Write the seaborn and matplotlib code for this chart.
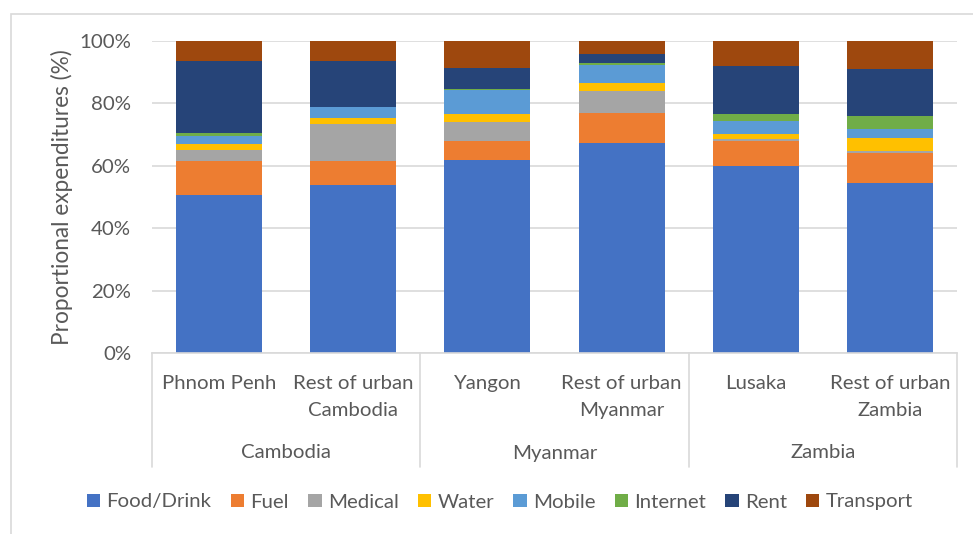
import matplotlib
matplotlib.use("Agg")
import matplotlib.pyplot as plt
import seaborn as sns
import numpy as np
import pandas as pd
from matplotlib.lines import Line2D
from matplotlib.patches import Rectangle, Patch

categories = ["Phnom Penh", "Rest of urban\nCambodia", "Yangon", "Rest of urban\nMyanmar",
              "Lusaka", "Rest of urban\nZambia"]
groups = ["Cambodia", "Myanmar", "Zambia"]
series = ["Food/Drink", "Fuel", "Medical", "Water", "Mobile", "Internet", "Rent", "Transport"]

food = [50.6, 53.8, 61.8, 67.2, 59.8, 54.5]
fuel = [10.9, 7.7, 6.0, 9.7, 8.1, 9.7]
medical = [3.7, 12.0, 6.3, 7.1, 0.8, 0.5]
water = [1.8, 1.9, 2.4, 2.4, 1.6, 4.3]
mobile = [2.7, 3.4, 7.7, 5.9, 4.0, 2.8]
internet = [0.7, 0.2, 0.3, 0.5, 2.2, 4.1]
rent = [23.2, 14.6, 6.7, 2.9, 15.6, 15.0]
transport = [6.4, 6.4, 8.8, 4.3, 7.9, 9.1]

colors = ["#4472C4", "#ED7D31", "#A5A5A5", "#FFC000", "#5B9BD5", "#70AD47", "#264478", "#9E480E"]

sns.set_theme(style="white")
plt.rcParams["font.family"] = ["Lato", "DejaVu Sans"]
text_color = "#595959"

W, H = 973, 534
fig = plt.figure(figsize=(W / 100, H / 100), dpi=100)

x0, x1, ytop, ybot = 152, 957, 41, 353
ax = fig.add_axes([x0 / W, 1 - ybot / H, (x1 - x0) / W, (ybot - ytop) / H])

values = [food, fuel, medical, water, mobile, internet, rent, transport]
bottom = np.zeros(len(categories))
for name, vals, c in zip(series, values, colors):
    df = pd.DataFrame({"cat": categories, "val": np.array(vals) / 100.0})
    sns.barplot(data=df, x="cat", y="val", order=categories, color=c, bottom=bottom,
                width=0.64, ax=ax, linewidth=0, saturation=1)
    bottom = bottom + np.array(vals) / 100.0

ax.set_xlim(-0.5, len(categories) - 0.5)
ax.set_ylim(0, 1.0)
ax.set_yticks(np.arange(0, 1.01, 0.2))
ax.set_yticklabels([f"{int(round(v*100))}%" for v in np.arange(0, 1.01, 0.2)],
                   color=text_color, fontsize=14.7)
ax.yaxis.grid(True, color="#D9D9D9", linewidth=1.2)
ax.set_axisbelow(True)
for s in ["left", "right", "top"]:
    ax.spines[s].set_visible(False)
ax.spines["bottom"].set_color("#D9D9D9")
ax.spines["bottom"].set_linewidth(1.2)
ax.tick_params(axis="y", length=0, pad=15)
ax.set_xticks([])
ax.set_xlabel("")
ax.set_ylabel("Proportional expenditures (%)", color=text_color, fontsize=16.3, labelpad=4.5)

# category labels
step = (x1 - x0) / len(categories)
for i, cat in enumerate(categories):
    cx = (x0 + step * (i + 0.5)) / W
    fig.text(cx, 1 - 375 / H, cat, ha="center", va="top", color=text_color,
             fontsize=14.7, linespacing=1.7)
for j, g in enumerate(groups):
    cx = (x0 + step * (2 * j + 1)) / W
    fig.text(cx, 1 - 453 / H, g, ha="center", va="center", color=text_color, fontsize=14.7)
for k in range(4):
    xx = (x0 + step * 2 * k) / W
    fig.add_artist(Line2D([xx, xx], [1 - 353 / H, 1 - 467 / H], color="#D9D9D9", lw=1.2))

# border
fig.add_artist(Rectangle((11 / W, -0.1), 1.2, 1 - 14 / H + 0.1, transform=fig.transFigure,
                         fill=False, edgecolor="#D9D9D9", lw=1.2))

handles = [Patch(facecolor=c, edgecolor="none", label=s) for s, c in zip(series, colors)]
fig.legend(handles=handles, loc="center", bbox_to_anchor=(500 / W, 1 - 502 / H), ncol=8,
           frameon=False, fontsize=14.7, handlelength=0.65, handleheight=0.65,
           handletextpad=0.3, columnspacing=0.95, labelcolor=text_color)

fig.savefig("out.png", dpi=100)
